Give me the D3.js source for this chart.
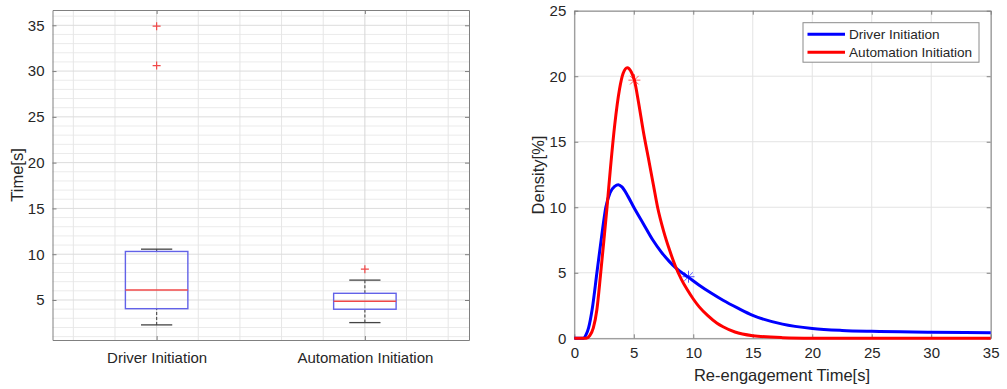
<!DOCTYPE html>
<html>
<head>
<meta charset="utf-8">
<script src="https://cdn.jsdelivr.net/npm/d3@7"></script>
<style>
  body { margin: 0; background: #fff; }
  svg text { font-family: "Liberation Sans", Arial, sans-serif; fill: #262626; }
  .tick-label { font-size: 15px; }
  .axis-title { font-size: 16.5px; }
  .legend-label { font-size: 13.6px; }
</style>
</head>
<body>
<div id="chart"></div>
<script>
// box plot data
const categories = ["Driver Initiation", "Automation Initiation"];
const boxLow = [2.28, 2.53];       // lower whisker
const boxQ1 = [4.05, 3.99];
const boxMedian = [6.09, 4.86];
const boxQ3 = [10.3, 5.73];
const boxHigh = [10.55, 7.17];     // upper whisker
const boxOutliers = [[34.9, 30.6], [8.37]];
const timeTicks = [5, 10, 15, 20, 25, 30, 35];

// density curves
const driverX = [0, 0.75, 1.0, 1.2, 1.5, 1.9, 2.3, 2.65, 3.0, 3.4, 3.7, 4.0, 4.5, 5.0, 5.8, 6.6, 7.3, 8.0, 8.55, 9.6, 10.5, 11.5, 12.5, 13.75, 15, 17.5, 20, 22.5, 25, 30, 35];
const driverY = [0, 0, 0.3, 0.8, 2.2, 5.0, 7.8, 10.0, 11.1, 11.6, 11.72, 11.55, 10.85, 10.0, 8.75, 7.5, 6.6, 5.85, 5.35, 4.65, 4.05, 3.45, 2.9, 2.3, 1.75, 1.08, 0.75, 0.6, 0.53, 0.47, 0.42];
const autoX = [0, 1.0, 1.3, 1.6, 1.9, 2.2, 2.5, 2.75, 3.05, 3.4, 3.8, 4.1, 4.45, 4.8, 5.05, 5.4, 5.8, 6.3, 6.65, 7.0, 7.5, 8.0, 8.5, 9.0, 9.5, 10.0, 10.5, 11.2, 12.0, 12.5, 13.5, 15, 17.5, 20, 25, 35];
const autoY = [0, 0, 0.2, 0.8, 2.2, 4.8, 7.6, 10.0, 13.1, 16.3, 19.0, 20.2, 20.65, 20.3, 19.7, 18.0, 15.8, 13.4, 11.7, 10.0, 8.2, 6.75, 5.5, 4.5, 3.7, 3.0, 2.4, 1.75, 1.15, 0.88, 0.48, 0.2, 0.05, 0.01, 0, 0];
const driverStar = [9.6, 4.7];
const autoStar = [5.05, 19.7];
const densityXTicks = [0, 5, 10, 15, 20, 25, 30, 35];
const densityYTicks = [0, 5, 10, 15, 20, 25];
const seriesNames = ["Driver Initiation", "Automation Initiation"];
const seriesColors = ["#0000ff", "#ff0000"];

const width = 1007, height = 389;
const axisColor = "#808080";

const svg = d3.select("#chart").append("svg")
    .attr("width", width).attr("height", height);
svg.append("rect").attr("width", width).attr("height", height).attr("fill", "#fff");

// ---------- left: box plot ----------
const bx = d3.scaleLinear().domain([0.5, 2.5]).range([52.5, 469]);
const by = d3.scaleLinear().domain([0.63, 36.67]).range([340, 10]);
const left = svg.append("g");

// minor grid
left.append("g")
    .selectAll("line")
    .data(d3.range(1, 37).filter(v => v % 5 !== 0))
    .join("line")
    .attr("x1", bx.range()[0]).attr("x2", bx.range()[1])
    .attr("y1", d => by(d)).attr("y2", d => by(d))
    .attr("stroke", "#ebebeb").attr("stroke-width", 1);
left.append("g")
    .selectAll("line")
    .data(d3.range(0.6, 2.45, 0.2).filter(v => Math.abs(v - 1) > 0.01 && Math.abs(v - 2) > 0.01))
    .join("line")
    .attr("x1", d => bx(d)).attr("x2", d => bx(d))
    .attr("y1", by.range()[0]).attr("y2", by.range()[1])
    .attr("stroke", "#e6e6e6").attr("stroke-width", 1);

// major grid
left.append("g")
    .selectAll("line")
    .data(timeTicks)
    .join("line")
    .attr("x1", bx.range()[0]).attr("x2", bx.range()[1])
    .attr("y1", d => by(d)).attr("y2", d => by(d))
    .attr("stroke", "#dcdcdc");
left.append("g")
    .selectAll("line")
    .data([1, 2])
    .join("line")
    .attr("x1", d => bx(d)).attr("x2", d => bx(d))
    .attr("y1", by.range()[0]).attr("y2", by.range()[1])
    .attr("stroke", "#d6d6d6");

// axes (frame + inward ticks)
left.append("g").attr("transform", `translate(${bx.range()[0]},0)`)
    .call(d3.axisLeft(by).tickValues(timeTicks).tickSizeInner(-4).tickSizeOuter(0).tickPadding(8));
left.append("g").attr("transform", `translate(${bx.range()[1]},0)`)
    .call(d3.axisRight(by).tickValues(timeTicks).tickSizeInner(-4).tickSizeOuter(0).tickFormat(""));
left.append("g").attr("transform", `translate(0,${by.range()[0]})`)
    .call(d3.axisBottom(bx).tickValues([1, 2]).tickSizeInner(-4).tickSizeOuter(0)
        .tickFormat(d => categories[d - 1]).tickPadding(12));
left.append("g").attr("transform", `translate(0,${by.range()[1]})`)
    .call(d3.axisTop(bx).tickValues([1, 2]).tickSizeInner(-4).tickSizeOuter(0).tickFormat(""));

// boxes
const boxHalf = 0.15, capHalf = 0.075;
categories.forEach((c, i) => {
    const cx = i + 1;
    const g = left.append("g");
    // whiskers (dashed)
    g.append("line")
        .attr("x1", bx(cx)).attr("x2", bx(cx))
        .attr("y1", by(boxLow[i])).attr("y2", by(boxQ1[i]))
        .attr("stroke", "#555").attr("stroke-width", 1.2).attr("stroke-dasharray", "3 2");
    g.append("line")
        .attr("x1", bx(cx)).attr("x2", bx(cx))
        .attr("y1", by(boxQ3[i])).attr("y2", by(boxHigh[i]))
        .attr("stroke", "#555").attr("stroke-width", 1.2).attr("stroke-dasharray", "3 2");
    // caps
    [boxLow[i], boxHigh[i]].forEach(v => {
        g.append("line")
            .attr("x1", bx(cx - capHalf)).attr("x2", bx(cx + capHalf))
            .attr("y1", by(v)).attr("y2", by(v))
            .attr("stroke", "#444").attr("stroke-width", 1.3);
    });
    // box
    g.append("rect")
        .attr("x", bx(cx - boxHalf)).attr("width", bx(cx + boxHalf) - bx(cx - boxHalf))
        .attr("y", by(boxQ3[i])).attr("height", by(boxQ1[i]) - by(boxQ3[i]))
        .attr("fill", "none").attr("stroke", "#6262e8").attr("stroke-width", 1.4);
    // median
    g.append("line")
        .attr("x1", bx(cx - boxHalf)).attr("x2", bx(cx + boxHalf))
        .attr("y1", by(boxMedian[i])).attr("y2", by(boxMedian[i]))
        .attr("stroke", "#f04848").attr("stroke-width", 1.3);
    // outliers
    boxOutliers[i].forEach(v => {
        g.append("path")
            .attr("d", `M${bx(cx) - 4},${by(v)}h8M${bx(cx)},${by(v) - 4}v8`)
            .attr("stroke", "#f04848").attr("stroke-width", 1.2).attr("fill", "none");
    });
});

svg.append("text")
    .attr("class", "axis-title")
    .attr("transform", `translate(23,175) rotate(-90)`)
    .attr("text-anchor", "middle")
    .text("Time[s]");

// ---------- right: density curves ----------
const dx = d3.scaleLinear().domain([0, 35]).range([574.3, 990.7]);
const dy = d3.scaleLinear().domain([0, 25]).range([338.3, 10.7]);
const right = svg.append("g");

right.append("g")
    .selectAll("line")
    .data(densityYTicks)
    .join("line")
    .attr("x1", dx.range()[0]).attr("x2", dx.range()[1])
    .attr("y1", d => dy(d)).attr("y2", d => dy(d))
    .attr("stroke", "#e3e3e3");
right.append("g")
    .selectAll("line")
    .data(densityXTicks)
    .join("line")
    .attr("x1", d => dx(d)).attr("x2", d => dx(d))
    .attr("y1", dy.range()[0]).attr("y2", dy.range()[1])
    .attr("stroke", "#e3e3e3");

right.append("g").attr("transform", `translate(${dx.range()[0]},0)`)
    .call(d3.axisLeft(dy).tickValues(densityYTicks).tickSizeInner(-4).tickSizeOuter(0).tickPadding(8));
right.append("g").attr("transform", `translate(${dx.range()[1]},0)`)
    .call(d3.axisRight(dy).tickValues(densityYTicks).tickSizeInner(-4).tickSizeOuter(0).tickFormat(""));
right.append("g").attr("transform", `translate(0,${dy.range()[0]})`)
    .call(d3.axisBottom(dx).tickValues(densityXTicks).tickSizeInner(-4).tickSizeOuter(0).tickPadding(9));
right.append("g").attr("transform", `translate(0,${dy.range()[1]})`)
    .call(d3.axisTop(dx).tickValues(densityXTicks).tickSizeInner(-4).tickSizeOuter(0).tickFormat(""));

const line = d3.line()
    .x(d => dx(d[0]))
    .y(d => dy(d[1]))
    .curve(d3.curveMonotoneX);

const series = [d3.zip(driverX, driverY), d3.zip(autoX, autoY)];
series.forEach((s, i) => {
    right.append("path")
        .attr("d", line(s))
        .attr("fill", "none")
        .attr("stroke", seriesColors[i])
        .attr("stroke-width", 3)
        .attr("stroke-linejoin", "round");
});

// asterisk markers
const starPath = (x, y, r) => {
    const d = r * 0.72;
    return `M${x - r},${y}h${2 * r}M${x},${y - r}v${2 * r}` +
        `M${x - d},${y - d}L${x + d},${y + d}M${x - d},${y + d}L${x + d},${y - d}`;
};
[driverStar, autoStar].forEach((p, i) => {
    right.append("path")
        .attr("d", starPath(dx(p[0]), dy(p[1]), 6))
        .attr("stroke", seriesColors[i])
        .attr("stroke-opacity", 0.65)
        .attr("stroke-width", 1)
        .attr("fill", "none");
});

svg.append("text")
    .attr("class", "axis-title")
    .attr("transform", `translate(544,175) rotate(-90)`)
    .attr("text-anchor", "middle")
    .text("Density[%]");
svg.append("text")
    .attr("class", "axis-title")
    .attr("x", 782).attr("y", 381)
    .attr("text-anchor", "middle")
    .text("Re-engagement Time[s]");

// legend
const legend = svg.append("g").attr("transform", "translate(803,22.7)");
legend.append("rect")
    .attr("width", 176).attr("height", 39.5)
    .attr("fill", "#fff").attr("stroke", "#8a8a8a").attr("stroke-width", 1);
seriesNames.forEach((name, i) => {
    const y = 11.5 + i * 18;
    legend.append("line")
        .attr("x1", 4.5).attr("x2", 42)
        .attr("y1", y).attr("y2", y)
        .attr("stroke", seriesColors[i]).attr("stroke-width", 3);
    legend.append("text")
        .attr("class", "legend-label")
        .attr("x", 46).attr("y", y + 5)
        .text(name);
});

// axis styling
svg.selectAll(".domain").attr("stroke", axisColor);
svg.selectAll(".tick line").attr("stroke", axisColor);
svg.selectAll(".tick text").attr("class", "tick-label").attr("fill", "#262626");
</script>
</body>
</html>
